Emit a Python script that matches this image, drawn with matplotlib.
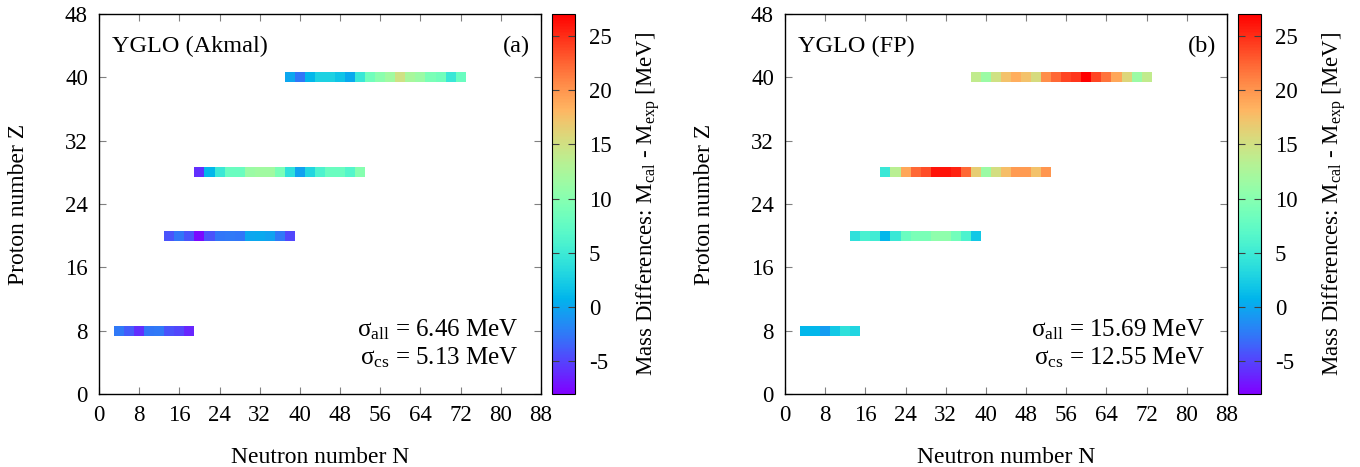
import numpy as np
import matplotlib
matplotlib.use("Agg")
import matplotlib.pyplot as plt
from matplotlib.colors import Normalize
from matplotlib.cm import ScalarMappable

plt.rcParams['font.family'] = ['Liberation Serif', 'DejaVu Serif']
plt.rcParams['mathtext.fontset'] = 'custom'
plt.rcParams['mathtext.rm'] = 'Liberation Serif'
plt.rcParams['mathtext.it'] = 'Liberation Serif:italic'
plt.rcParams['axes.unicode_minus'] = False

# isotope chains (proton number Z), neutron numbers N and mass differences [MeV]
N_z8_a = [4, 6, 8, 10, 12, 14, 16, 18]
N_z20_a = [14, 16, 18, 20, 22, 24, 26, 28, 30, 32, 34, 36, 38]
N_z28_a = [20, 22, 24, 26, 28, 30, 32, 34, 36, 38, 40, 42, 44, 46, 48, 50, 52]
N_z40_a = [38, 40, 42, 44, 46, 48, 50, 52, 54, 56, 58, 60, 62, 64, 66, 68, 70, 72]

N_z8_b = [4, 6, 8, 10, 12, 14]
N_z20_b = N_z20_a
N_z28_b = N_z28_a
N_z40_b = N_z40_a

# panel (a): YGLO (Akmal)
dm_z8_a = [-2.4, -3.8, -5.9, -2.6, -2.4, -4.2, -4.8, -6.3]
dm_z20_a = [-4.2, -2.6, -4.2, -7.5, -4.2, -2.6, -2.4, -2.6, 0.0, 0.2, -0.3, -2.5, -4.8]
dm_z28_a = [-5.9, 0.9, 4.8, 8.1, 8.1, 11.3, 11.8, 11.8, 9.2, 3.9, -0.3, 3.2, 6.0,
            8.1, 8.1, 6.5, 10.0]
dm_z40_a = [0.0, -2.6, 0.9, 2.8, 2.8, 1.8, 0.2, 4.6, 8.5, 10.2, 11.8, 14.9, 12.3,
            11.3, 9.2, 8.5, 4.6, 8.1]

# panel (b): YGLO (FP)
dm_z8_b = [0.9, 0.9, -0.6, 2.0, 3.9, 3.0]
dm_z20_b = [3.9, 5.7, 5.2, 0.9, 4.8, 8.1, 9.2, 9.2, 10.5, 10.5, 8.6, 6.0, 2.0]
dm_z28_b = [4.8, 13.4, 19.0, 22.3, 23.5, 26.1, 26.1, 25.4, 22.3, 16.5, 11.3, 15.2,
            17.6, 19.7, 19.7, 17.4, 20.0]
dm_z40_b = [13.9, 11.3, 14.9, 17.4, 18.6, 17.4, 15.5, 20.4, 22.3, 23.9, 24.6, 27.0,
            23.9, 21.8, 19.0, 15.8, 11.3, 13.9]

Z_values = [8, 20, 28, 40]

panels = [
    dict(title='YGLO (Akmal)', tag='(a)', sig_all='6.46', sig_cs='5.13',
         N=[N_z8_a, N_z20_a, N_z28_a, N_z40_a],
         dm=[dm_z8_a, dm_z20_a, dm_z28_a, dm_z40_a]),
    dict(title='YGLO (FP)', tag='(b)', sig_all='15.69', sig_cs='12.55',
         N=[N_z8_b, N_z20_b, N_z28_b, N_z40_b],
         dm=[dm_z8_b, dm_z20_b, dm_z28_b, dm_z40_b]),
]

W, H = 1360, 467
fig = plt.figure(figsize=(W / 100, H / 100), dpi=100)
cmap = plt.get_cmap('rainbow')
norm = Normalize(vmin=-8, vmax=27)

ax_left = [99, 785]
cb_left = [552, 1238]
y0, y1 = 394, 14

for i, p in enumerate(panels):
    ax = fig.add_axes([ax_left[i] / W, (H - y0) / H, 442 / W, (y0 - y1) / H])
    for Z, Ns, dms in zip(Z_values, p['N'], p['dm']):
        h = 1.25
        ax.bar(Ns, h, width=2, bottom=Z - h / 2, color=cmap(norm(np.array(dms))),
               linewidth=0)
    ax.set_xlim(0, 88)
    ax.set_ylim(0, 48)
    ax.set_xticks(np.arange(0, 89, 8))
    ax.set_yticks(np.arange(0, 49, 8))
    ax.tick_params(direction='in', top=True, right=True, length=5, width=0.8,
                   color='#808080', labelsize=16.5, pad=8)
    for s in ax.spines.values():
        s.set_linewidth(1.0)
    ax.set_xlabel('Neutron number N', fontsize=17, labelpad=15)
    ax.set_ylabel('Proton number Z', fontsize=17, labelpad=26)
    ax.text(0.03, 0.915, p['title'], transform=ax.transAxes, fontsize=17.5,
            ha='left', va='center')
    ax.text(0.975, 0.915, p['tag'], transform=ax.transAxes, fontsize=17.5,
            ha='right', va='center')
    ax.text(0.95, 0.17, 'σ$_{\\rm all}$ = ' + p['sig_all'] + ' MeV',
            transform=ax.transAxes, fontsize=18, ha='right', va='center')
    ax.text(0.95, 0.095, 'σ$_{\\rm cs}$ = ' + p['sig_cs'] + ' MeV',
            transform=ax.transAxes, fontsize=18, ha='right', va='center')

    cax = fig.add_axes([cb_left[i] / W, (H - y0) / H, 23 / W, (y0 - y1) / H])
    cb = fig.colorbar(ScalarMappable(norm=norm, cmap=cmap), cax=cax)
    cb.set_ticks([-5, 0, 5, 10, 15, 20, 25])
    cb.ax.tick_params(direction='in', left=True, right=True, length=5, width=0.8,
                      color='#404040', labelsize=16.5, pad=10)
    cb.outline.set_linewidth(0.8)
    cb.set_label(r'Mass Differences: M$_{\rm cal}$ - M$_{\rm exp}$ [MeV]',
                 fontsize=16.5, labelpad=16)

fig.savefig('out.png', dpi=100)
